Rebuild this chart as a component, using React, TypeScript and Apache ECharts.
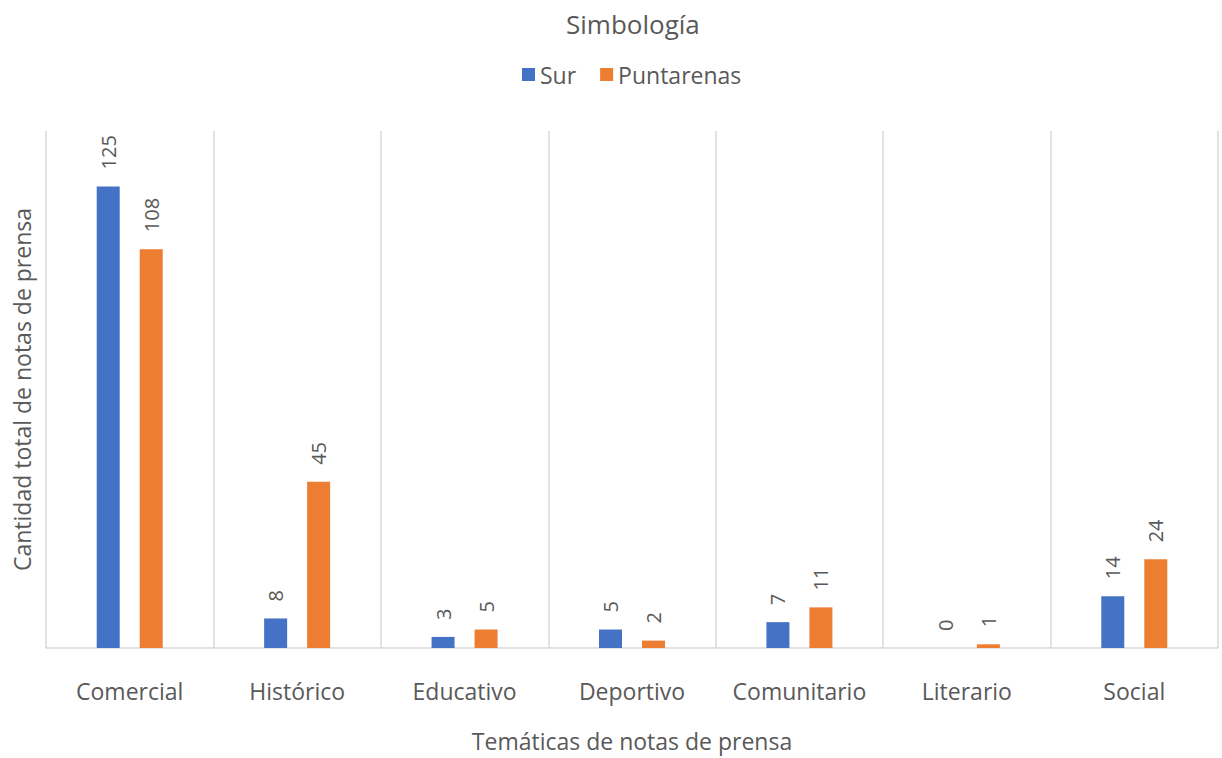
import React, { useEffect, useRef } from "react";
import * as echarts from "echarts";

const categories = ["Comercial", "Histórico", "Educativo", "Deportivo", "Comunitario", "Literario", "Social"];
const surValues = [125, 8, 3, 5, 7, 0, 14];
const puntarenasValues = [108, 45, 5, 2, 11, 1, 24];
const seriesNames = ["Sur", "Puntarenas"];

const FONT = "'Open Sans', 'Noto Sans', sans-serif";
const TEXT = "#595959";
const GRID_LINE = "#d9d9d9";

export default function App() {
  const ref = useRef<HTMLDivElement>(null);

  useEffect(() => {
    if (!ref.current) return;
    const chart = echarts.init(ref.current, undefined, { renderer: "svg" });
    const label = {
      show: true,
      position: "top" as const,
      rotate: 90,
      align: "left" as const,
      verticalAlign: "middle" as const,
      distance: 17,
      color: TEXT,
      fontSize: 20,
      fontFamily: FONT,
    };
    chart.setOption({
      animation: false,
      backgroundColor: "#ffffff",
      title: {
        text: "Simbología",
        left: 566,
        top: 11,
        padding: 0,
        textStyle: { color: TEXT, fontSize: 26, fontWeight: "normal", fontFamily: FONT },
      },
      legend: {
        data: seriesNames,
        left: 517,
        top: 58,
        itemWidth: 13,
        itemHeight: 13,
        itemGap: 24,
        icon: "rect",
        textStyle: { color: TEXT, fontSize: 23, fontFamily: FONT },
      },
      grid: { left: 46, right: 4, top: 131, bottom: 110 },
      xAxis: {
        type: "category",
        data: categories,
        name: "Temáticas de notas de prensa",
        nameLocation: "middle",
        nameGap: 81,
        nameTextStyle: { color: TEXT, fontSize: 23, fontFamily: FONT },
        axisLine: { show: true, lineStyle: { color: GRID_LINE, width: 1.5 } },
        axisTick: { show: false, interval: 0 },
        axisLabel: { color: TEXT, fontSize: 23, fontFamily: FONT, margin: 31, interval: 0 },
        splitLine: { show: true, interval: 0, lineStyle: { color: GRID_LINE, width: 1.5 } },
      },
      yAxis: {
        type: "value",
        min: 0,
        max: 140,
        name: "Cantidad total de notas de prensa",
        nameLocation: "middle",
        nameGap: 13,
        nameTextStyle: { color: TEXT, fontSize: 23, fontFamily: FONT },
        axisLine: { show: false },
        axisTick: { show: false },
        axisLabel: { show: false },
        splitLine: { show: false },
      },
      series: [
        {
          name: seriesNames[0],
          type: "bar",
          data: surValues,
          barWidth: 23,
          barGap: "87%",
          itemStyle: { color: "#4472C4" },
          label,
        },
        {
          name: seriesNames[1],
          type: "bar",
          data: puntarenasValues,
          barWidth: 23,
          itemStyle: { color: "#ED7D31" },
          label,
        },
      ],
    });
    return () => chart.dispose();
  }, []);

  return <div ref={ref} style={{ width: 1222, height: 758, position: "absolute", left: 0, top: 0 }} />;
}
